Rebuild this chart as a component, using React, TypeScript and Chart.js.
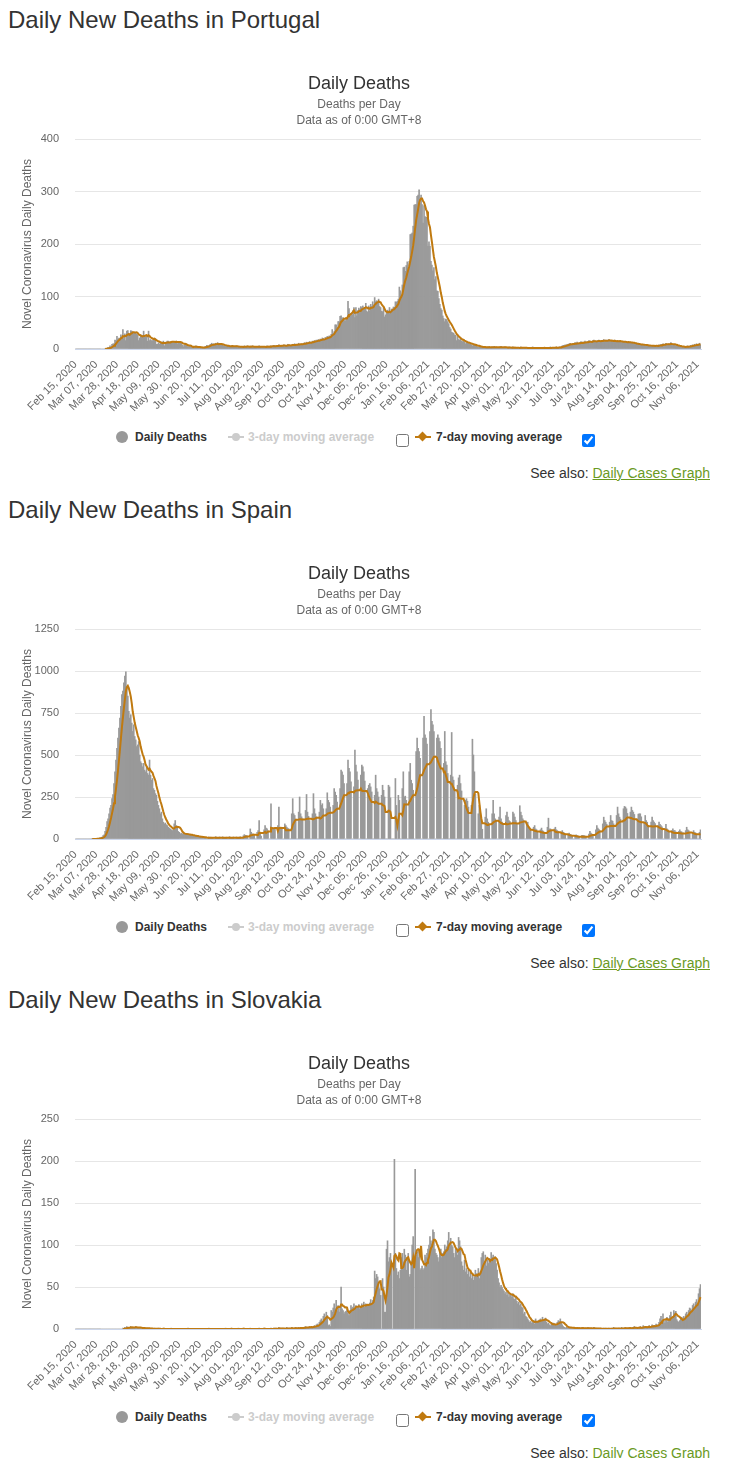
import React, { useEffect, useRef } from 'react';
import { Chart, registerables } from 'chart.js';

Chart.register(...registerables);

const FONT = "'Liberation Sans', Arial, Helvetica, sans-serif";
Chart.defaults.font.family = FONT;

const MA_COLOR = '#C07A10';
const BAR_COLOR = '#999999';

const START_DATE = Date.UTC(2020, 1, 15);
const MONTHS = ['Jan', 'Feb', 'Mar', 'Apr', 'May', 'Jun', 'Jul', 'Aug', 'Sep', 'Oct', 'Nov', 'Dec'];

const xTickLabels = [
  'Feb 15, 2020', 'Mar 07, 2020', 'Mar 28, 2020', 'Apr 18, 2020', 'May 09, 2020', 'May 30, 2020',
  'Jun 20, 2020', 'Jul 11, 2020', 'Aug 01, 2020', 'Aug 22, 2020', 'Sep 12, 2020', 'Oct 03, 2020',
  'Oct 24, 2020', 'Nov 14, 2020', 'Dec 05, 2020', 'Dec 26, 2020', 'Jan 16, 2021', 'Feb 06, 2021',
  'Feb 27, 2021', 'Mar 20, 2021', 'Apr 10, 2021', 'May 01, 2021', 'May 22, 2021', 'Jun 12, 2021',
  'Jul 03, 2021', 'Jul 24, 2021', 'Aug 14, 2021', 'Sep 04, 2021', 'Sep 25, 2021', 'Oct 16, 2021',
  'Nov 06, 2021',
];
const TICK_EVERY = 21;

// Portugal daily deaths, Feb 15 2020 .. Nov 9 2021
const portugalDeaths = [
  // 2020 Feb 15-29
  0,0,0,0,0,0,0,0,0,0,0,0,0,0,0,
  // Mar
  0,0,0,0,0,0,0,0,0,0,0,0,0,0,0,1,1,1,3,2,6,2,9,10,10,17,16,24,19,21,20,
  // Apr
  27,22,37,20,29,16,34,35,29,26,35,34,31,32,32,30,28,27,16,21,27,23,26,34,26,23,25,15,34,16,
  // May
  18,16,16,20,18,20,9,9,12,9,13,13,13,15,6,11,13,15,15,13,14,12,14,14,14,14,15,10,12,14,14,
  // Jun
  12,8,4,7,11,10,6,3,5,4,4,3,5,5,3,6,3,2,3,4,2,3,3,2,4,5,7,6,6,8,
  // Jul
  9,11,8,10,7,11,9,12,8,10,9,7,8,6,7,5,6,5,6,4,5,6,7,5,4,5,6,3,4,5,4,
  // Aug
  4,5,3,6,4,5,6,4,3,5,4,6,4,3,5,4,3,5,6,4,3,4,5,3,4,5,6,4,5,4,6,
  // Sep
  5,6,7,4,6,5,7,8,6,5,7,6,8,7,5,6,9,8,7,6,8,9,7,10,8,9,7,11,9,8,
  // Oct
  10,9,11,12,10,13,11,12,14,13,12,15,14,16,15,17,16,18,15,19,18,21,20,17,22,21,24,23,25,24,28,
  // Nov
  37,29,33,46,46,40,52,52,62,63,59,60,56,53,58,59,91,77,62,68,64,73,79,60,79,63,73,78,75,81,
  // Dec
  79,82,74,78,87,72,70,82,73,85,81,90,82,98,90,92,88,95,81,79,72,71,79,61,65,69,74,72,79,70,76,
  // 2021 Jan
  76,80,79,90,89,91,95,118,111,102,122,155,156,148,159,166,152,167,218,219,221,234,274,275,275,291,293,303,278,293,275,
  // Feb
  240,273,252,251,251,196,204,196,167,160,149,155,132,138,111,110,96,85,77,74,63,58,52,57,56,52,48,41,
  // Mar
  38,32,31,30,27,26,16,24,18,17,20,15,14,15,13,10,13,12,11,9,10,8,6,9,8,7,5,4,3,6,4,
  // Apr
  3,5,2,4,3,3,4,2,5,3,2,4,3,5,2,4,3,2,3,4,5,2,3,3,4,2,3,1,4,2,
  // May
  3,2,4,1,3,2,2,3,1,2,4,3,2,1,3,2,1,2,3,2,1,2,4,1,2,3,2,1,2,3,2,
  // Jun
  2,1,3,2,1,2,3,2,1,4,2,3,2,3,1,4,2,3,4,2,5,6,7,6,8,7,9,8,10,11,
  // Jul
  9,8,11,10,12,9,13,11,10,12,14,11,13,12,15,11,13,14,16,15,12,14,16,17,13,15,14,16,17,15,14,
  // Aug
  16,15,18,14,17,16,15,18,17,14,16,15,13,17,16,14,15,13,16,14,12,15,13,14,12,13,11,14,12,13,11,
  // Sep
  12,10,11,9,10,8,9,10,8,7,9,8,7,6,8,7,6,5,7,6,5,6,7,5,6,7,5,8,7,9,
  // Oct
  8,10,9,7,11,9,8,10,9,12,8,9,7,8,6,7,5,6,4,5,3,4,5,3,4,5,6,4,5,7,6,
  // Nov 1-9
  8,7,9,6,10,8,9,11,8,
];

// Spain daily deaths, Feb 15 2020 .. Nov 9 2021
const spainDeaths = [
  // days 0-16
  0,0,0,0,0,0,0,0,0,0,0,0,0,0,0,0,0,
  // days 17-30
  1,0,1,2,1,3,2,5,8,7,12,20,25,45,
  // 31-40
  70,104,120,150,184,200,240,264,330,400,
  // 41-50
  470,540,600,660,720,790,860,880,930,970,
  // 51-60
  995,900,850,760,720,740,690,640,680,610,
  // 61-70
  590,550,560,580,500,460,450,430,450,410,
  // 71-80
  400,430,390,380,470,380,350,360,300,290,
  // 81-90
  270,260,225,200,180,150,160,120,100,90,
  // 91-100
  95,85,80,70,65,60,55,50,55,90,
  // 101-110
  110,80,70,45,40,30,35,30,32,28,
  // 111-120
  30,28,25,30,22,25,20,24,20,18,
  // 121-130
  15,18,14,12,15,12,10,11,9,12,
  // 131-140
  8,10,0,0,12,9,11,8,10,0,
  // 141-150
  0,14,8,9,10,12,0,0,13,10,
  // 151-160
  8,9,11,0,0,14,10,9,8,12,
  // 161-167
  0,0,12,8,10,11,13,
  // weekly from Aug 1 2020 (Sat, Sun, Mon, Tue, Wed, Thu, Fri)
  0,0,19,26,22,20,18,
  0,0,60,40,30,30,22,
  0,0,40,50,110,35,17,
  0,0,55,80,65,60,48,
  0,0,210,70,60,62,60,
  0,0,80,190,70,65,57,
  0,0,90,80,70,64,60,
  0,0,150,240,150,140,118,
  0,0,160,250,150,132,120,
  0,0,170,265,160,135,110,
  0,0,150,270,180,150,132,
  0,0,160,230,200,210,180,
  0,0,180,275,230,217,190,
  0,0,200,300,280,260,220,
  0,0,300,410,400,380,330,
  0,0,330,470,420,400,340,
  0,0,310,530,440,400,350,
  0,0,380,440,430,400,345,
  0,0,300,320,330,310,280,
  0,0,260,380,300,280,250,
  0,0,260,320,290,250,0,
  0,0,320,310,245,0,0,
  0,0,360,200,0,260,230,
  0,0,300,400,250,255,230,
  0,0,400,450,350,330,290,
  0,0,520,600,540,520,480,
  0,0,600,730,620,600,565,
  0,0,640,770,700,680,640,
  0,0,600,620,600,580,540,
  0,0,450,640,460,440,390,
  0,0,380,634,370,350,296,
  0,0,320,364,380,330,286,
  0,0,200,230,240,225,190,
  0,0,200,594,500,400,266,
  0,0,150,200,150,100,58,
  0,0,130,180,120,100,86,
  0,0,150,230,150,120,106,
  0,0,130,190,120,100,90,
  0,0,140,160,130,110,104,
  0,0,160,150,130,110,94,
  0,0,198,160,140,120,110,
  0,0,90,100,75,65,55,
  0,0,70,80,60,55,43,
  0,0,55,65,50,45,37,
  0,0,70,124,60,60,50,
  0,0,60,70,55,50,45,
  0,0,40,50,40,36,30,
  0,0,30,35,28,25,22,
  0,0,20,25,20,18,15,
  0,0,22,22,20,18,16,
  0,0,30,45,35,30,28,
  0,0,55,80,65,58,50,
  0,0,90,130,110,100,88,
  0,0,100,140,110,106,90,
  0,0,140,190,150,130,118,
  0,0,180,194,190,180,152,
  0,0,160,190,170,160,146,
  0,0,120,148,150,150,132,
  0,0,100,140,110,100,82,
  0,0,100,130,110,100,92,
  0,0,80,100,88,80,72,
  0,0,60,88,60,55,45,
  0,0,50,60,50,50,42,
  0,0,45,55,45,42,37,
  0,0,50,70,55,50,41,
  0,0,40,50,40,36,30,
  0,0,40,55,
];

// Slovakia daily deaths, Feb 15 2020 .. Nov 9 2021
const slovakiaDeaths = [
  // days 0-47
  0,0,0,0,0,0,0,0,0,0,0,0,0,0,0,0,0,0,0,0,0,0,0,0,
  0,0,0,0,0,0,0,0,0,0,0,0,0,0,0,0,0,0,0,0,0,0,0,0,
  // 48-75
  1,0,2,1,3,2,1,2,3,1,2,2,1,3,2,1,2,1,2,0,1,1,2,0,1,1,0,1,
  // 76-99
  0,1,0,0,1,0,0,0,1,0,0,0,0,1,0,0,0,0,0,0,0,1,0,0,
  // 100-149
  0,0,0,0,0,0,0,0,0,0, 0,0,0,0,1,0,0,0,0,0, 0,0,0,0,0,0,0,0,0,0, 0,0,0,0,0,1,0,0,0,0, 0,0,0,0,0,0,0,0,0,0,
  // 150-199
  0,0,1,0,0,0,0,0,1,0, 0,0,0,0,0,1,0,0,0,0, 1,0,0,0,0,0,0,1,0,0, 0,0,0,0,0,0,1,0,0,0, 0,1,0,0,0,0,0,0,1,0,
  // 200-240
  0,1,0,1,0,0,2,0,1,0, 1,0,0,1,2,0,1,1,0,2, 1,0,1,2,1,0,2,1,1,2, 1,2,1,3,2,1,2,3,2,3, 2,
  // 241-250
  3,4,3,5,6,4,8,10,12,9,
  // 251-260
  15,18,12,20,16,4,5,3,22,20,
  // 261-270
  25,30,24,34,22,28,20,26,50,24,
  // 271-280
  22,18,20,21,24,19,16,22,28,25,
  // 281-290
  26,30,24,28,25,27,29,24,26,30,
  // 291-300
  28,32,26,30,28,27,29,31,35,30,
  // 301-310
  34,38,69,60,65,62,55,48,40,0,
  // 311-320
  60,50,20,20,95,105,80,85,90,78,
  // 321-330
  0,75,202,90,72,64,68,60,70,85,
  // 331-340
  90,80,95,88,70,85,90,62,65,80,
  // 341-350
  100,110,0,190,88,92,85,95,70,72,
  // 351-360
  75,70,72,88,85,90,95,100,110,105,
  // 361-370
  101,118,115,95,90,88,85,80,92,95,
  // 371-380
  85,90,92,100,95,98,105,115,100,108,
  // 381-390
  100,98,90,85,95,92,88,109,105,98,
  // 391-400
  80,75,70,82,68,72,65,70,62,68,
  // 401-410
  60,65,58,62,70,66,64,72,60,68,
  // 411-420
  85,90,92,80,88,75,82,78,84,80,
  // 421-430
  91,85,88,82,86,78,70,60,55,50,
  // 431-440
  52,50,47,45,42,44,40,45,38,42,
  // 441-450
  40,38,42,36,35,38,33,30,32,28,
  // 451-460
  30,26,25,18,20,15,14,12,10,8,
  // 461-470
  9,7,8,10,6,12,9,8,10,11,
  // 471-480
  12,9,14,10,11,13,8,6,7,5,
  // 481-490
  4,6,5,7,6,5,4,8,10,9,
  // 491-500
  12,8,5,3,2,1,2,1,3,2,
  // 501-510
  1,2,0,1,2,1,0,2,1,1,
  // 511-520
  0,1,2,1,0,1,1,0,2,1,
  // 521-530
  1,0,1,0,2,1,0,1,0,1,
  // 531-540
  0,1,0,0,1,0,1,0,0,1,
  // 541-550
  0,0,1,0,2,0,1,0,0,1,
  // 551-560
  1,0,2,1,0,1,2,0,1,1,
  // 561-570
  2,1,0,2,1,3,1,2,0,2,
  // 571-580
  1,3,2,1,4,2,3,2,1,3,
  // 581-590
  4,2,3,5,3,4,2,6,5,4,
  // 591-600
  8,12,15,10,18,9,7,11,14,8,
  // 601-610
  12,16,20,13,15,22,19,21,11,9,
  // 611-620
  8,10,12,14,11,15,13,18,20,17,
  // 621-630
  22,25,24,20,28,30,26,32,35,29,
  // 631-633
  42,48,53,
];

const dayLabels = portugalDeaths.map((_, i) => {
  const d = new Date(START_DATE + i * 86400000);
  return `${MONTHS[d.getUTCMonth()]} ${String(d.getUTCDate()).padStart(2, '0')}, ${d.getUTCFullYear()}`;
});

function movingAverage7(values: number[]): (number | null)[] {
  const first = values.findIndex((v) => v > 0);
  return values.map((_, i) => {
    if (first < 0 || i < first) return null;
    let s = 0;
    for (let k = i - 6; k <= i; k++) s += k >= 0 ? values[k] : 0;
    return s / 7;
  });
}

function DeathsChart({ daily, yMax, yStep }: { daily: number[]; yMax: number; yStep: number }) {
  const ref = useRef<HTMLCanvasElement | null>(null);
  useEffect(() => {
    if (!ref.current) return;
    const ma = movingAverage7(daily);
    const chart = new Chart(ref.current, {
      type: 'bar',
      data: {
        labels: dayLabels,
        datasets: [
          {
            type: 'line',
            label: '7-day moving average',
            data: ma,
            borderColor: MA_COLOR,
            backgroundColor: MA_COLOR,
            borderWidth: 2,
            pointRadius: 0,
            tension: 0,
            order: 0,
          } as any,
          {
            type: 'bar',
            label: 'Daily Deaths',
            data: daily,
            backgroundColor: BAR_COLOR,
            borderWidth: 0,
            barPercentage: 1,
            categoryPercentage: 1,
            order: 1,
          } as any,
        ],
      },
      options: {
        animation: false,
        responsive: true,
        maintainAspectRatio: false,
        layout: { padding: { left: 0, right: 0, top: 0, bottom: 0 } },
        plugins: {
          legend: { display: false },
          tooltip: { enabled: false },
          title: {
            display: true,
            text: 'Daily Deaths',
            color: '#333333',
            font: { size: 18, weight: 'normal', family: FONT },
            padding: { top: 15, bottom: 2 },
          },
          subtitle: {
            display: true,
            text: ['Deaths per Day', 'Data as of 0:00 GMT+8'],
            color: '#666666',
            font: { size: 12, lineHeight: 1.35, family: FONT },
            padding: { top: 0, bottom: 10 },
          },
        },
        scales: {
          x: {
            grid: { display: false, drawTicks: false },
            border: { display: true, color: '#ccd6eb', width: 1 },
            ticks: {
              autoSkip: false,
              maxRotation: 45,
              minRotation: 45,
              color: '#666666',
              font: { size: 11, family: FONT },
              padding: 9,
              callback: (value: any) => xTickLabels[Math.round(Number(value) / TICK_EVERY)],
            },
            afterBuildTicks: (scale: any) => {
              scale.ticks = scale.ticks.filter((t: any) => t.value % TICK_EVERY === 0);
            },
            afterFit: (scale: any) => {
              scale.height = 70;
              scale.paddingLeft = 0;
              scale.paddingRight = 9;
            },
          },
          y: {
            min: 0,
            max: yMax,
            grid: { color: '#e6e6e6', drawTicks: false },
            border: { display: false },
            ticks: {
              stepSize: yStep,
              color: '#666666',
              font: { size: 11, family: FONT },
              padding: 16,
              callback: (value: any) => String(value),
            },
            title: {
              display: true,
              text: 'Novel Coronavirus Daily Deaths',
              color: '#666666',
              font: { size: 12, family: FONT },
              padding: { top: 12, bottom: 0 },
            },
            afterFit: (scale: any) => {
              scale.width = 67;
            },
          },
        },
      } as any,
    });
    return () => chart.destroy();
  }, [daily, yMax, yStep]);
  return <canvas ref={ref} />;
}

const legendText: React.CSSProperties = {
  position: 'absolute',
  top: 421,
  fontSize: 12,
  lineHeight: '16px',
  fontWeight: 'bold',
  whiteSpace: 'nowrap',
  fontFamily: FONT,
};

function Legend() {
  return (
    <>
      <div style={{ position: 'absolute', left: 108, top: 423, width: 12, height: 12, borderRadius: 6, background: BAR_COLOR }} />
      <div style={{ ...legendText, left: 127, color: '#333333' }}>Daily Deaths</div>
      <div style={{ position: 'absolute', left: 220, top: 428, width: 16, height: 2, background: '#cccccc' }} />
      <div style={{ position: 'absolute', left: 224, top: 425, width: 8, height: 8, borderRadius: 4, background: '#cccccc' }} />
      <div style={{ ...legendText, left: 240, color: '#cccccc' }}>3-day moving average</div>
      <input type="checkbox" readOnly style={{ position: 'absolute', left: 388, top: 426, margin: 0, width: 13, height: 13 }} />
      <div style={{ position: 'absolute', left: 407, top: 428, width: 16, height: 2, background: MA_COLOR }} />
      <div style={{ position: 'absolute', left: 411, top: 425, width: 7, height: 7, background: MA_COLOR, transform: 'rotate(45deg)' }} />
      <div style={{ ...legendText, left: 428, color: '#333333' }}>7-day moving average</div>
      <input type="checkbox" checked readOnly style={{ position: 'absolute', left: 574, top: 426, margin: 0, width: 13, height: 13 }} />
    </>
  );
}

function CountryBlock({ country, daily, yMax, yStep, height }: { country: string; daily: number[]; yMax: number; yStep: number; height: number }) {
  return (
    <div style={{ position: 'relative', height, fontFamily: FONT }}>
      <div style={{ position: 'absolute', left: 0, top: -1, fontSize: 24, lineHeight: '26px', color: '#333333', whiteSpace: 'nowrap' }}>
        Daily New Deaths in {country}
      </div>
      <div style={{ position: 'absolute', left: 0, top: 50, width: 702, height: 361 }}>
        <DeathsChart daily={daily} yMax={yMax} yStep={yStep} />
      </div>
      <Legend />
      <div style={{ position: 'absolute', right: 17, top: 457, fontSize: 14, lineHeight: '16px', color: '#333333', whiteSpace: 'nowrap' }}>
        See also: <a href="#" style={{ color: '#6a9a1f', textDecoration: 'underline' }}>Daily Cases Graph</a>
      </div>
    </div>
  );
}

export default function App() {
  return (
    <div style={{ width: 719 }}>
      <CountryBlock country="Portugal" daily={portugalDeaths} yMax={400} yStep={100} height={490} />
      <CountryBlock country="Spain" daily={spainDeaths} yMax={1250} yStep={250} height={490} />
      <CountryBlock country="Slovakia" daily={slovakiaDeaths} yMax={250} yStep={50} height={470} />
    </div>
  );
}
